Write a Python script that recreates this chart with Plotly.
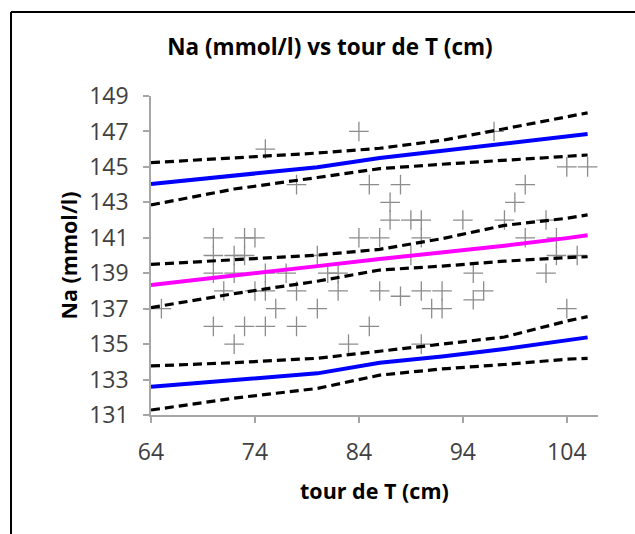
import plotly.graph_objects as go

# Observations: waist circumference (cm) and sodium (mmol/l)
tour_cm = [65, 70, 70, 70, 70, 71, 72, 72, 72, 73, 73, 73, 74, 74, 75, 75, 75, 75,
           76, 77, 78, 78, 78, 80, 80, 81, 82, 82, 83, 84, 84, 85, 85, 86, 86, 87,
           87, 88, 88, 89, 89, 90, 90, 90, 90, 91, 92, 92, 94, 95, 95, 96, 97, 98,
           99, 100, 100, 102, 102, 103, 103, 104, 104, 105, 106]
na_mmol = [137, 141, 140, 139, 136, 138, 140, 139, 135, 141, 140, 136, 141, 138, 146, 139, 138, 136,
           137, 139, 144, 138, 136, 140, 137, 139, 139, 138, 135, 147, 141, 144, 136, 141, 138, 143,
           142, 144, 137.7, 142, 140, 142, 141, 138, 135, 137, 138, 137, 142, 139, 137.5, 138, 147, 142,
           143, 144, 141, 142, 139, 141, 140, 145, 137, 140, 145]

# Regression line with confidence and prediction bands
band_x = [64, 72, 80, 86, 92, 98, 104, 106]
pi_upper_hi = [145.24, 145.50, 145.78, 146.05, 146.50, 147.15, 147.80, 148.05]
pi_upper = [144.04, 144.50, 144.98, 145.50, 145.90, 146.30, 146.75, 146.86]
pi_upper_lo = [142.85, 143.75, 144.40, 144.90, 145.15, 145.38, 145.60, 145.67]
ci_upper = [139.50, 139.75, 140.02, 140.35, 140.95, 141.70, 142.10, 142.29]
fit_line = [138.34, 138.85, 139.40, 139.80, 140.15, 140.55, 140.98, 141.14]
ci_lower = [137.06, 137.85, 138.55, 139.18, 139.40, 139.68, 139.88, 139.93]
pi_lower_hi = [133.77, 133.95, 134.20, 134.60, 135.00, 135.40, 136.30, 136.55]
pi_lower = [132.60, 132.95, 133.35, 133.95, 134.30, 134.72, 135.20, 135.38]
pi_lower_lo = [131.28, 131.95, 132.50, 133.25, 133.60, 133.85, 134.15, 134.20]

x_ticks = [64, 74, 84, 94, 104]
y_ticks = [131, 133, 135, 137, 139, 141, 143, 145, 147, 149]

FONT = "Open Sans"
DASH = dict(color="black", width=3.2, dash="9px,5px")

fig = go.Figure()

fig.add_trace(go.Scatter(
    x=tour_cm, y=na_mmol, mode="markers",
    marker=dict(symbol="cross-thin", size=14, line=dict(color="#8c8c8c", width=1.3)),
    cliponaxis=False, showlegend=False))

for ys in (pi_upper_hi, pi_upper_lo, ci_upper, ci_lower, pi_lower_hi, pi_lower_lo):
    fig.add_trace(go.Scatter(x=band_x, y=ys, mode="lines", line=DASH, showlegend=False))

for ys in (pi_upper, pi_lower):
    fig.add_trace(go.Scatter(x=band_x, y=ys, mode="lines",
                             line=dict(color="#0000ff", width=4), showlegend=False))

fig.add_trace(go.Scatter(x=band_x, y=fit_line, mode="lines",
                         line=dict(color="#ff00ff", width=4), showlegend=False))

axis_common = dict(
    showgrid=False, zeroline=False, showline=True, linecolor="#a6a6a6", linewidth=1.5,
    ticks="outside", ticklen=6, tickcolor="#a6a6a6", tickwidth=1.5,
    tickfont=dict(family=FONT, size=23, color="#404040"),
)

fig.update_layout(
    width=635, height=534,
    margin=dict(l=151, r=37, t=96, b=119),
    paper_bgcolor="white", plot_bgcolor="white",
    title=dict(text="<b>Na (mmol/l) vs tour de T (cm)</b>",
               font=dict(family=FONT, size=22.5, color="black"),
               x=330 / 635, xref="container", xanchor="center",
               y=1 - 47 / 534, yref="container", yanchor="middle"),
    xaxis=dict(range=[64, 107], tickvals=x_ticks, ticktext=[str(v) for v in x_ticks],
               ticklabelstandoff=10, **axis_common),
    yaxis=dict(range=[131, 149], tickvals=y_ticks, ticktext=[str(v) for v in y_ticks],
               ticklabelstandoff=10, **axis_common),
    annotations=[
        dict(text="<b>tour de T (cm)</b>", xref="paper", yref="paper",
             x=0.5, y=(415 - 490) / 319, xanchor="center", yanchor="middle",
             showarrow=False, font=dict(family=FONT, size=21.5, color="black")),
        dict(text="<b>Na (mmol/l)</b>", xref="paper", yref="paper",
             x=(68 - 151) / 447, y=0.5, xanchor="center", yanchor="middle",
             textangle=-90, showarrow=False, font=dict(family=FONT, size=21.5, color="black")),
    ],
    shapes=[
        dict(type="line", xref="paper", yref="paper",
             x0=(11 - 151) / 447, x1=(11 - 151) / 447, y0=(415 - 12) / 319, y1=(415 - 540) / 319,
             line=dict(color="black", width=2)),
        dict(type="line", xref="paper", yref="paper",
             x0=(11 - 151) / 447, x1=(640 - 151) / 447, y0=(415 - 12) / 319, y1=(415 - 12) / 319,
             line=dict(color="black", width=2)),
    ],
)

fig.write_html("out.html")
